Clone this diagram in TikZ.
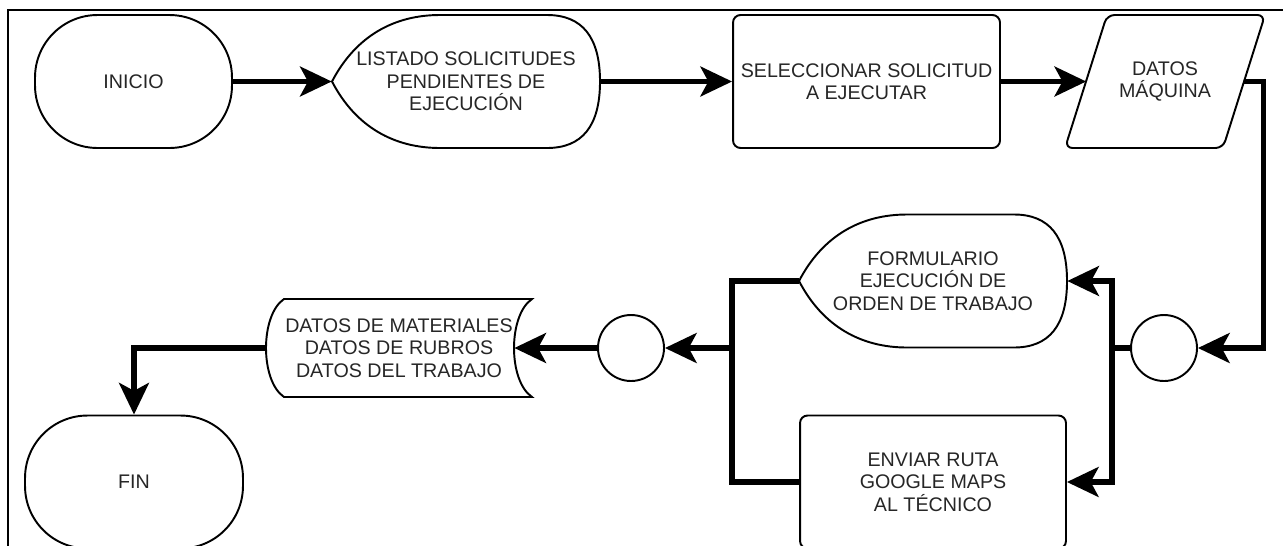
\documentclass[tikz,border=0pt]{standalone}
\usepackage{fontspec}
\setmainfont{Liberation Sans}
\usetikzlibrary{arrows.meta}

\tikzset{
  base/.style={font=\fontsize{11.2}{12.8}\selectfont,text=black!85,align=center,inner sep=0pt},
  shapeline/.style={draw,line width=1.1pt},
  term/.style={base,shapeline,rounded corners=1.25cm,minimum height=2.66cm},
  proc/.style={base,shapeline,rounded corners=0.15cm,minimum width=5.34cm,minimum height=2.66cm},
  datain/.style={base,minimum width=3.14cm,minimum height=2.66cm},
  disp/.style={base,minimum width=5.36cm,minimum height=2.66cm},
  store/.style={base,minimum width=5.32cm,minimum height=1.96cm},
  junct/.style={circle,shapeline,minimum size=1.32cm,inner sep=0pt},
  flowline/.style={line width=3pt},
  flow/.style={flowline,-{Stealth[length=18pt,width=17pt,inset=4.5pt]}}
}

% display shape drawn round a centre
\newcommand{\dispOutline}[2]{%
\begin{scope}[shift={(#1,#2)}]
\draw[shapeline] (-134,0) .. controls (-110,-46) and (-71.3,-66.5) .. (-26,-66.5)
  -- (81,-66.5) .. controls (116.3,-66.5) and (134,-44.3) .. (134,0)
  .. controls (134,44.3) and (116.3,66.5) .. (81,66.5)
  -- (-26,66.5) .. controls (-71.3,66.5) and (-110,46) .. (-134,0) -- cycle;
\end{scope}}

\begin{document}
\begin{tikzpicture}[x=0.02cm,y=-0.02cm]
\useasboundingbox (0,0) rectangle (1283,545);
\draw[line width=1.2pt] (8,550) -- (8,10) -- (1290,10);

% top row
\node[term,minimum width=3.94cm] (inicio) at (133.5,81.5) {INICIO};
\dispOutline{466}{81.5}
\node[disp] (listado) at (466,81.5) {LISTADO SOLICITUDES\\PENDIENTES DE\\EJECUCIÓN};
\node[proc] (selec) at (866.5,81.5) {SELECCIONAR SOLICITUD\\A EJECUTAR};
\draw[shapeline,rounded corners=0.15cm] (1065,148) -- (1107,15) -- (1265,15) -- (1223,148) -- cycle;
\node[datain] (maq) at (1165,81.5) {DATOS\\MÁQUINA};

% lower row
\node[junct] (cr) at (1164,348) {};
\dispOutline{933}{281}
\node[disp] (form) at (933,281) {FORMULARIO\\EJECUCIÓN DE\\ORDEN DE TRABAJO};
\node[proc,minimum width=5.32cm] (envia) at (933,482) {ENVIAR RUTA\\GOOGLE MAPS\\AL TÉCNICO};
\node[junct] (cl) at (631,348) {};
\draw[shapeline] (284,299) -- (532,299) .. controls (508,315.3) and (508,380.7) .. (532,397)
  -- (284,397) .. controls (260,380.7) and (260,315.3) .. (284,299) -- cycle;
\node[store] (mat) at (399,348) {DATOS DE MATERIALES\\DATOS DE RUBROS\\DATOS DEL TRABAJO};
\node[term,minimum width=4.36cm] (fin) at (134,482) {FIN};

\draw[flow] (inicio) -- (listado);
\draw[flow] (listado) -- (selec);
\draw[flow] (selec) -- (maq);
\draw[flow] (maq.east) -- ++(20,0) |- (cr.east);
\draw[flowline] (cr.west) -- ++(-18,0) coordinate (rbus);
\draw[flow] (rbus) |- (form.east);
\draw[flow] (rbus) |- (envia.east);
\coordinate (lbus) at (732,348);
\draw[flowline] (form.west) -| (lbus) |- (envia.west);
\draw[flow] (lbus) -- (cl.east);
\draw[flow] (cl.west) -- ([xshift=-0.36cm]mat.east);
\draw[flow] (mat.west) -| (fin.north);
\end{tikzpicture}
\end{document}
